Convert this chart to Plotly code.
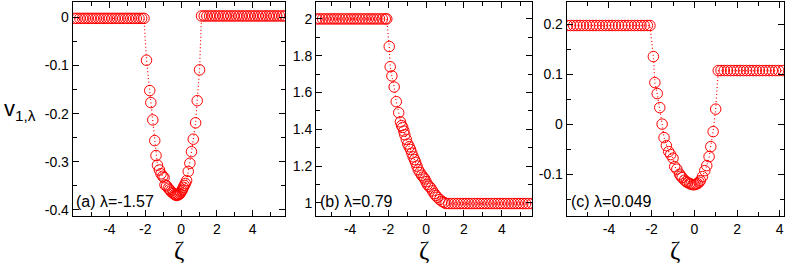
import plotly.graph_objects as go

# ---------------- data ----------------
# panel (a)  lambda = -1.57
ZETA_A = [-5.95, -5.8, -5.65, -5.5, -5.35, -5.2, -5.05, -4.9, -4.75, -4.6, -4.45, -4.3,
          -4.15, -4.0, -3.85, -3.7, -3.55, -3.4, -3.25, -3.1, -2.95, -2.8, -2.65, -2.5,
          -2.35, -2.2, -2.07,
          -1.93, -1.75, -1.69, -1.58, -1.47, -1.40, -1.32, -1.21, -1.12, -1.02, -0.95, -0.90,
          -0.81, -0.71, -0.64, -0.58, -0.49, -0.42, -0.36, -0.30, -0.25, -0.18, -0.12,
          -0.06, -0.01, 0.04, 0.08, 0.13, 0.18, 0.24, 0.31, 0.40, 0.49, 0.58, 0.68, 0.81,
          0.90, 1.03,
          1.14, 1.29, 1.44, 1.59, 1.74, 1.89, 2.04, 2.19, 2.34, 2.49, 2.64, 2.79, 2.94,
          3.09, 3.24, 3.39, 3.54, 3.69, 3.84, 3.99, 4.14, 4.29, 4.44, 4.59, 4.74, 4.89,
          5.04, 5.19, 5.34, 5.49, 5.64, 5.79]
V_A = [-0.002, -0.002, -0.002, -0.002, -0.002, -0.002, -0.002, -0.002, -0.002, -0.002,
       -0.002, -0.002, -0.002, -0.002, -0.002, -0.002, -0.002, -0.002, -0.002, -0.002,
       -0.002, -0.002, -0.002, -0.002, -0.002, -0.002, -0.002,
       -0.089, -0.152, -0.177, -0.213, -0.256, -0.287, -0.307, -0.317, -0.325, -0.330,
       -0.333, -0.348, -0.350, -0.355, -0.358, -0.361, -0.364, -0.366, -0.368, -0.369,
       -0.370, -0.369, -0.368, -0.366, -0.363, -0.360, -0.357, -0.353, -0.349, -0.345,
       -0.339, -0.320, -0.303, -0.279, -0.253, -0.219, -0.173, -0.109,
       0.003, 0.003, 0.003, 0.003, 0.003, 0.003, 0.003, 0.003, 0.003, 0.003, 0.003,
       0.003, 0.003, 0.003, 0.003, 0.003, 0.003, 0.003, 0.003, 0.003, 0.003, 0.003,
       0.003, 0.003, 0.003, 0.003, 0.003, 0.003, 0.003, 0.003, 0.003, 0.003]

# panel (b)  lambda = 0.79
ZETA_B = [-5.75, -5.6, -5.45, -5.3, -5.15, -5.0, -4.85, -4.7, -4.55, -4.4, -4.25, -4.1,
          -3.95, -3.8, -3.65, -3.5, -3.35, -3.2, -3.05, -2.9, -2.75, -2.6, -2.45, -2.3,
          -2.15, -2.07,
          -1.94, -1.89, -1.80, -1.68, -1.57, -1.44, -1.35, -1.29, -1.23, -1.17, -1.12,
          -1.04, -0.96, -0.89, -0.82, -0.75, -0.68, -0.61, -0.55, -0.48, -0.41, -0.32,
          -0.23, -0.15, -0.07, 0.00, 0.07, 0.16, 0.25, 0.34, 0.43, 0.51, 0.60, 0.72,
          0.84, 0.95,
          1.05, 1.2, 1.35, 1.5, 1.65, 1.8, 1.95, 2.1, 2.25, 2.4, 2.55, 2.7, 2.85, 3.0,
          3.15, 3.3, 3.45, 3.6, 3.75, 3.9, 4.05, 4.2, 4.35, 4.5, 4.65, 4.8, 4.95, 5.1,
          5.25, 5.4, 5.58]
V_B = [2.0, 2.0, 2.0, 2.0, 2.0, 2.0, 2.0, 2.0, 2.0, 2.0, 2.0, 2.0, 2.0, 2.0, 2.0, 2.0,
       2.0, 2.0, 2.0, 2.0, 2.0, 2.0, 2.0, 2.0, 2.0, 2.0,
       1.85, 1.74, 1.69, 1.63, 1.55, 1.49, 1.44, 1.42, 1.41, 1.39, 1.37,
       1.345, 1.320, 1.305, 1.290, 1.270, 1.250, 1.235, 1.220, 1.200, 1.180, 1.165,
       1.150, 1.140, 1.130, 1.115, 1.100, 1.090, 1.080, 1.065, 1.050, 1.040, 1.030,
       1.018, 1.008, 1.002,
       0.996, 0.996, 0.996, 0.996, 0.996, 0.996, 0.996, 0.996, 0.996, 0.996, 0.996,
       0.996, 0.996, 0.996, 0.996, 0.996, 0.996, 0.996, 0.996, 0.996, 0.996, 0.996,
       0.996, 0.996, 0.996, 0.996, 0.996, 0.996, 0.996, 0.996, 0.996]

# panel (c)  lambda = 0.049
ZETA_C = [-5.95, -5.8, -5.65, -5.5, -5.35, -5.2, -5.05, -4.9, -4.75, -4.6, -4.45, -4.3,
          -4.15, -4.0, -3.85, -3.7, -3.55, -3.4, -3.25, -3.1, -2.95, -2.8, -2.65, -2.5,
          -2.35, -2.2, -2.08,
          -1.92, -1.85, -1.74, -1.62, -1.51, -1.42, -1.31, -1.20, -1.11, -1.00, -0.92,
          -0.82, -0.69, -0.63, -0.57, -0.46, -0.38, -0.31, -0.22, -0.15, -0.07, 0.00,
          0.07, 0.15, 0.22, 0.28, 0.38, 0.49, 0.58, 0.69, 0.77, 0.88, 1.00,
          1.12, 1.25, 1.4, 1.55, 1.7, 1.85, 2.0, 2.15, 2.3, 2.45, 2.6, 2.75, 2.9, 3.05,
          3.2, 3.35, 3.5, 3.65, 3.8, 3.95, 4.15]
V_C = [0.197, 0.197, 0.197, 0.197, 0.197, 0.197, 0.197, 0.197, 0.197, 0.197, 0.197,
       0.197, 0.197, 0.197, 0.197, 0.197, 0.197, 0.197, 0.197, 0.197, 0.197, 0.197,
       0.197, 0.197, 0.197, 0.197, 0.197,
       0.135, 0.083, 0.061, 0.033, 0.000, -0.027, -0.043, -0.055, -0.061, -0.068,
       -0.085, -0.090, -0.100, -0.104, -0.107, -0.112, -0.115, -0.117, -0.119, -0.120,
       -0.121, -0.121, -0.120, -0.119, -0.116, -0.113, -0.105, -0.093, -0.083, -0.065,
       -0.045, -0.015, 0.030,
       0.107, 0.107, 0.107, 0.107, 0.107, 0.107, 0.107, 0.107, 0.107, 0.107, 0.107,
       0.107, 0.107, 0.107, 0.107, 0.107, 0.107, 0.107, 0.107, 0.107, 0.107]

PANEL_LABELS = ["(a) λ=-1.57", "(b) λ=0.79", "(c) λ=0.049"]
X_TICKS = [-4, -2, 0, 2, 4]
X_TICK_TEXT = ["-4", "-2", "0", "2", "4"]
Y_TICKS_A = [0, -0.1, -0.2, -0.3, -0.4]
Y_TICK_TEXT_A = ["0", "-0.1", "-0.2", "-0.3", "-0.4"]
Y_TICKS_B = [1, 1.2, 1.4, 1.6, 1.8, 2]
Y_TICK_TEXT_B = ["1", "1.2", "1.4", "1.6", "1.8", "2"]
Y_TICKS_C = [-0.1, 0, 0.1, 0.2]
Y_TICK_TEXT_C = ["-0.1", "0", "0.1", "0.2"]

# ---------------- layout ----------------
W, H = 789, 263
FONT = "Liberation Sans, Arial, Helvetica, sans-serif"
SERIF = "Liberation Serif, Times New Roman, serif"
RED = "#ff0000"

x_dom = [(72.7 / W, 285.0 / W), (316.0 / W, 532.3 / W), (566.7 / W, 784.0 / W)]
y_dom = (1 - 215.7 / H, 1 - 2.0 / H)
x_ranges = [(-6.05, 5.8), (-5.8, 5.6), (-5.98, 4.2)]
y_ranges = [(-0.412, 0.032), (0.93, 2.092), (-0.183, 0.244)]
y_ticks = [(Y_TICKS_A, Y_TICK_TEXT_A, 0.05), (Y_TICKS_B, Y_TICK_TEXT_B, 0.1),
           (Y_TICKS_C, Y_TICK_TEXT_C, 0.05)]
data = [(ZETA_A, V_A), (ZETA_B, V_B), (ZETA_C, V_C)]

fig = go.Figure()
for i, (zz, vv) in enumerate(data):
    sfx = "" if i == 0 else str(i + 1)
    fig.add_trace(go.Scatter(
        x=zz, y=vv, mode="lines+markers",
        line=dict(color=RED, width=1.2, dash="1px,2.5px"),
        marker=dict(symbol="circle-open", size=10.5, color=RED, line=dict(width=1, color=RED)),
        xaxis="x" + sfx, yaxis="y" + sfx, showlegend=False, cliponaxis=True,
    ))

axis_common = dict(showline=True, linecolor="black", linewidth=1, mirror="ticks",
                   ticks="inside", ticklen=6, tickwidth=1, tickcolor="black",
                   showgrid=False, zeroline=False, automargin=False,
                   tickfont=dict(family=FONT, size=14, color="black"))

layout = dict(width=W, height=H, margin=dict(l=0, r=0, t=0, b=0),
              paper_bgcolor="white", plot_bgcolor="white",
              font=dict(family=FONT, color="black"))
for i in range(3):
    sfx = "" if i == 0 else str(i + 1)
    layout["xaxis" + sfx] = dict(
        axis_common, domain=list(x_dom[i]), range=list(x_ranges[i]),
        anchor="y" + sfx, tickmode="array", tickvals=X_TICKS, ticktext=X_TICK_TEXT,
        minor=dict(ticks="inside", ticklen=4, tick0=0, dtick=1, tickcolor="black", showgrid=False))
    yt, ytt, ymin = y_ticks[i]
    layout["yaxis" + sfx] = dict(
        axis_common, domain=list(y_dom), range=list(y_ranges[i]),
        anchor="x" + sfx, tickmode="array", tickvals=yt, ticktext=ytt,
        minor=dict(ticks="inside", ticklen=4, tick0=0, dtick=ymin, tickcolor="black", showgrid=False))

annotations = []
label_x = [74, 318, 569]
for i in range(3):
    annotations.append(dict(x=label_x[i] / W, y=1 - 201 / H, xref="paper", yref="paper",
                            xanchor="left", yanchor="middle", showarrow=False,
                            text=PANEL_LABELS[i], font=dict(family=FONT, size=16, color="black")))
    cx = (x_dom[i][0] + x_dom[i][1]) / 2
    annotations.append(dict(x=cx, y=1 - 250 / H, xref="paper", yref="paper",
                            xanchor="center", yanchor="middle", showarrow=False,
                            text="ζ", font=dict(family=SERIF, size=25, color="black")))
annotations.append(dict(x=2 / W, y=1 - 110 / H, xref="paper", yref="paper",
                        xanchor="left", yanchor="middle", showarrow=False,
                        text="v<sub>1,λ</sub>", font=dict(family=FONT, size=22, color="black")))
layout["annotations"] = annotations

fig.update_layout(**layout)
fig.write_html("out.html", config={"displayModeBar": False},
               post_script="document.body.style.margin='0';")
